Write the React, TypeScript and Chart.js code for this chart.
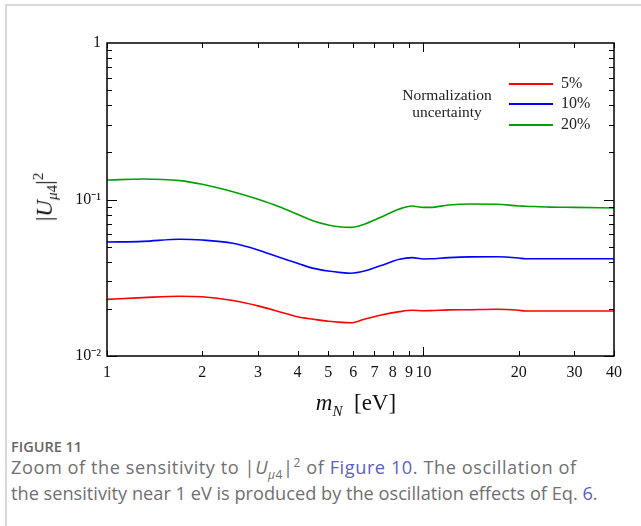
import React, { useEffect, useRef } from "react";
import { Chart, registerables } from "chart.js";

Chart.register(...registerables);

// ---- data ----
const massEv = [1, 1.3, 1.7, 2, 2.5, 3, 3.5, 4, 4.5, 5, 5.5, 5.9, 6.5, 7.3, 8.4, 9.2, 10, 10.5, 12, 14, 17, 20, 21, 25, 30, 40];
const norm5 = [0.0230, 0.0236, 0.0241, 0.0239, 0.0226, 0.0209, 0.0192, 0.0178, 0.01716, 0.01667, 0.0164, 0.0163, 0.01716, 0.0182, 0.0192, 0.0196, 0.01947, 0.0195, 0.0197, 0.01977, 0.0199, 0.0196, 0.0194, 0.0194, 0.0194, 0.0194];
const norm10 = [0.0535, 0.0540, 0.0557, 0.0551, 0.0525, 0.0476, 0.0427, 0.0391, 0.0363, 0.0349, 0.0341, 0.0338, 0.0349, 0.0377, 0.0415, 0.0425, 0.0417, 0.0418, 0.0425, 0.0430, 0.0431, 0.0423, 0.0418, 0.0418, 0.0418, 0.0418];
const norm20 = [0.1332, 0.1352, 0.1320, 0.1250, 0.1120, 0.1003, 0.0900, 0.0804, 0.0729, 0.0687, 0.0667, 0.0664, 0.0695, 0.0767, 0.0870, 0.0909, 0.0891, 0.0891, 0.0922, 0.0936, 0.0933, 0.0909, 0.0906, 0.0894, 0.0891, 0.0883];

const seriesLabels = ["5%", "10%", "20%"];
const seriesColors = ["#ff0000", "#0000ff", "#00a000"];
const seriesValues = [norm5, norm10, norm20];

const xTickValues = [1, 2, 3, 4, 5, 6, 7, 8, 9, 10, 20, 30, 40];
const xTickLabels = ["1", "2", "3", "4", "5", "6", "7", "8", "9", "10", "20", "30", "40"];
const yTickValues = [0.01, 0.1, 1];
const yTickLabels = ["10\u207B\u00B2", "10\u207B\u00B9", "1"];
const yDecades = [0.01, 0.1];

const SERIF = "'Liberation Serif', 'Times New Roman', serif";
const SANS = "'Open Sans', Lato, sans-serif";

const frameTicks = {
  id: "frameTicks",
  afterDraw(chart: any) {
    const { ctx, chartArea: a, scales } = chart;
    const xs = scales.x;
    const ys = scales.y;
    ctx.save();
    ctx.strokeStyle = "#000";
    ctx.lineWidth = 1;
    const seg = (x1: number, y1: number, x2: number, y2: number) => {
      ctx.beginPath();
      ctx.moveTo(x1, y1);
      ctx.lineTo(x2, y2);
      ctx.stroke();
    };
    xTickValues.forEach((v) => {
      const px = Math.round(xs.getPixelForValue(v)) + 0.5;
      const len = v === 10 ? 9 : 5;
      seg(px, a.bottom, px, a.bottom - len);
      seg(px, a.top, px, a.top + len);
    });
    yDecades.forEach((d) => {
      for (let m = 1; m <= 9; m++) {
        const v = d * m;
        const py = Math.round(ys.getPixelForValue(v)) + 0.5;
        const len = m === 1 ? 10 : 5;
        seg(a.left, py, a.left + len, py);
        seg(a.right, py, a.right - len, py);
      }
    });
    ctx.lineWidth = 1.5;
    ctx.strokeRect(a.left, a.top, a.right - a.left, a.bottom - a.top);
    ctx.restore();
  },
};

function SensitivityChart() {
  const ref = useRef<HTMLCanvasElement | null>(null);
  useEffect(() => {
    if (!ref.current) return;
    const chart = new Chart(ref.current, {
      type: "line",
      data: {
        datasets: seriesValues.map((vals, i) => ({
          label: seriesLabels[i],
          data: massEv.map((x, j) => ({ x, y: vals[j] })),
          borderColor: seriesColors[i],
          backgroundColor: seriesColors[i],
          borderWidth: 1.6,
          pointRadius: 0,
          cubicInterpolationMode: "monotone" as const,
          fill: false,
        })),
      },
      options: {
        responsive: false,
        animation: false,
        events: [],
        layout: { padding: { left: 57, top: 43, right: 27, bottom: 34 } },
        plugins: { legend: { display: false }, tooltip: { enabled: false }, title: { display: false } },
        scales: {
          x: {
            type: "logarithmic",
            min: 1,
            max: 40,
            afterBuildTicks: (s: any) => {
              s.ticks = xTickValues.map((v) => ({ value: v }));
            },
            afterFit: (s: any) => {
              s.height = 30;
            },
            ticks: {
              autoSkip: false,
              maxRotation: 0,
              padding: 7,
              color: "#111",
              font: { family: SERIF, size: 16 },
              callback: (_v: any, i: number) => xTickLabels[i],
            },
            grid: { display: false, drawTicks: false },
            border: { display: false },
          },
          y: {
            type: "logarithmic",
            min: 0.01,
            max: 1,
            afterBuildTicks: (s: any) => {
              s.ticks = yTickValues.map((v) => ({ value: v }));
            },
            afterFit: (s: any) => {
              s.width = 50;
            },
            ticks: {
              autoSkip: false,
              padding: 6,
              color: "#111",
              font: { family: SERIF, size: 16 },
              callback: (_v: any, i: number) => yTickLabels[i],
            },
            grid: { display: false, drawTicks: false },
            border: { display: false },
          },
        },
      },
      plugins: [frameTicks],
    });
    return () => chart.destroy();
  }, []);
  return <canvas ref={ref} width={641} height={420} style={{ position: "absolute", left: 0, top: 0, display: "block" }} />;
}

export default function App() {
  const legendY = [84, 104, 125];
  return (
    <div style={{ position: "absolute", left: 0, top: 0, width: 641, height: 526, overflow: "hidden", background: "#fff" }}>
      <div style={{ position: "absolute", left: 5, top: 4, width: 640, height: 530, borderTop: "2px solid #d8d8d8", borderLeft: "2px solid #d8d8d8" }} />
      <SensitivityChart />
      {/* y axis title */}
      <div style={{ position: "absolute", left: 45, top: 197, transform: "translate(-50%, -50%) rotate(-90deg)", whiteSpace: "nowrap", fontFamily: SERIF, fontSize: 23, color: "#111", lineHeight: "26px" }}>
        |<i>U</i><sub style={{ fontSize: 15 }}><i>μ</i>4</sub>|<sup style={{ fontSize: 15 }}>2</sup>
      </div>
      {/* x axis title */}
      <div style={{ position: "absolute", left: 356, top: 407, transform: "translate(-50%, -50%)", whiteSpace: "nowrap", fontFamily: SERIF, fontSize: 23, color: "#111", lineHeight: "26px" }}>
        <i>m</i><sub style={{ fontSize: 15 }}><i>N</i></sub>&nbsp;&nbsp;[eV]
      </div>
      {/* legend */}
      <div style={{ position: "absolute", left: 387, top: 86, width: 120, textAlign: "center", fontFamily: SERIF, fontSize: 15.5, lineHeight: "17px", color: "#222" }}>
        Normalization
        <br />
        uncertainty
      </div>
      {seriesLabels.map((lab, i) => (
        <React.Fragment key={lab}>
          <div style={{ position: "absolute", left: 509, top: legendY[i] - 1, width: 44, height: 2, background: seriesColors[i] }} />
          <div style={{ position: "absolute", left: 561, top: legendY[i] - 11, fontFamily: SERIF, fontSize: 16, lineHeight: "20px", color: "#222" }}>{lab}</div>
        </React.Fragment>
      ))}
      {/* caption */}
      <div style={{ position: "absolute", left: 11, top: 438, fontFamily: SANS, fontSize: 14.5, fontWeight: 600, color: "#666", lineHeight: "17px" }}>
        FIGURE 11
      </div>
      <div style={{ position: "absolute", left: 11, top: 455, fontFamily: SANS, fontSize: 18.2, color: "#707070", lineHeight: "25.5px", whiteSpace: "nowrap" }}>
        <span style={{ letterSpacing: 0.55 }}>
          Zoom of the sensitivity to |<i>U</i><sub style={{ fontSize: 12, lineHeight: 0 }}><i>μ</i>4</sub>|<sup style={{ fontSize: 12, lineHeight: 0 }}>2</sup> of <span style={{ color: "#5b5fc0" }}>Figure 10</span>. The oscillation of
        </span>
        <br />
        the sensitivity near 1 eV is produced by the oscillation effects of Eq. <span style={{ color: "#5b5fc0" }}>6</span>.
      </div>
    </div>
  );
}
